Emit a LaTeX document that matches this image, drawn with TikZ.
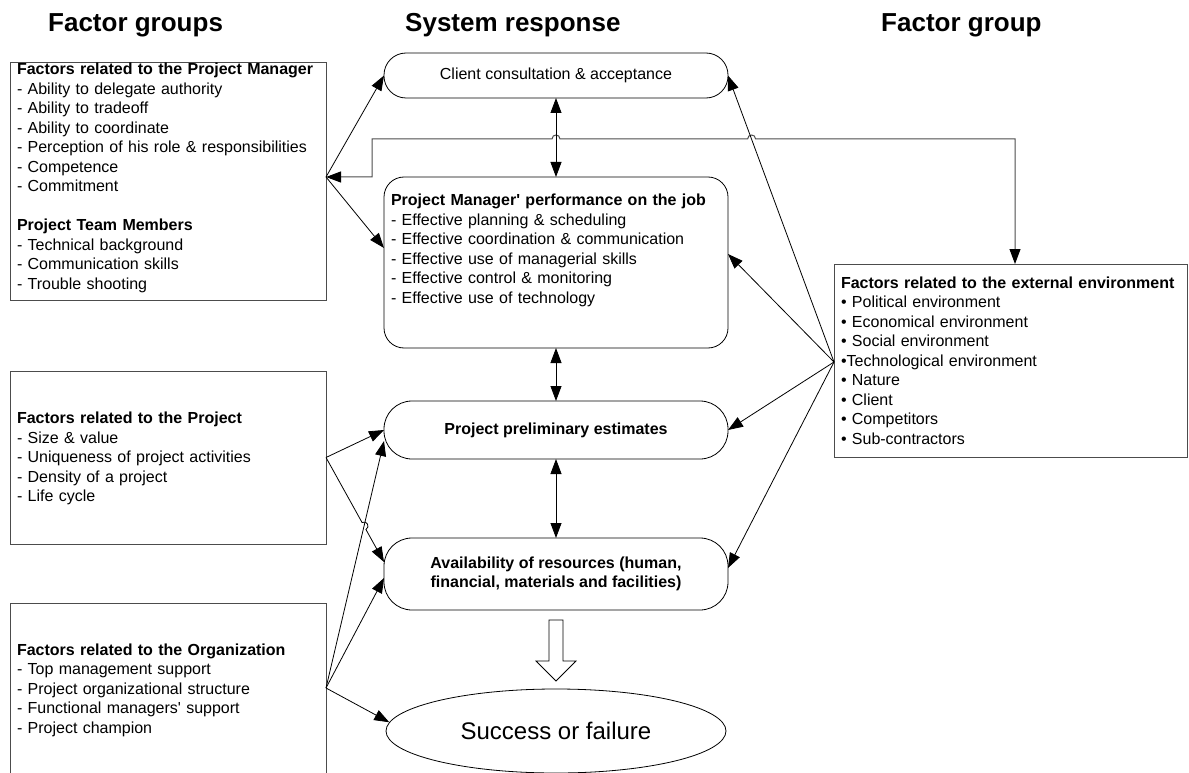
\documentclass[tikz,border=0pt]{standalone}
\usepackage{fontspec}
\setmainfont{Liberation Sans}
% a family without TeX ligatures, so that ' stays a straight apostrophe
\newfontfamily\arial{Liberation Sans}
\usetikzlibrary{arrows.meta,shapes.geometric}

\begin{document}
\begin{tikzpicture}[x=1pt,y=-1pt,
  txt/.style={font=\arial\fontsize{16}{19.5}\selectfont, inner sep=0pt, outer sep=0pt},
  listtxt/.style={txt, anchor=base west, align=left, text width=#1},
  head/.style={font=\arial\bfseries\fontsize{26}{30}\selectfont, anchor=base west, inner sep=0pt},
  sqbox/.style={draw=black!70, line width=1pt, anchor=north west, inner sep=0pt, outer sep=0pt},
  rbox/.style={txt, draw=black, line width=0.8pt, minimum width=344pt},
  arr/.style={-{Triangle[length=15pt,width=11pt]}, line width=0.8pt},
  darr/.style={{Triangle[length=15pt,width=11pt]}-{Triangle[length=15pt,width=11pt]}, line width=0.8pt},
]
\useasboundingbox (0,0) rectangle (1189,773);

% column headings
\node[head] (h1) at (48,31.5) {Factor groups};
\node[head] (h2) at (405,31.5) {System response};
\node[head] (h3) at (881,31.5) {Factor group};

% factor boxes
\node[sqbox, minimum width=316pt, minimum height=237pt] (pmfac) at (10,63) {};
\node[sqbox, minimum width=316pt, minimum height=173pt] (projfac) at (10,371) {};
\node[sqbox, minimum width=316pt, minimum height=175pt] (orgfac) at (10,603) {};
\node[sqbox, minimum width=353pt, minimum height=193pt] (envfac) at (834,264) {};

\node[listtxt=300pt] (pmfac-t) at (17,75) {\textbf{Factors related to the Project Manager}\\
- Ability to delegate authority\\
- Ability to tradeoff\\
- Ability to coordinate\\
- Perception of his role \& responsibilities\\
- Competence\\
- Commitment\\[19.5pt]
\textbf{Project Team Members}\\
- Technical background\\
- Communication skills\\
- Trouble shooting};

\node[listtxt=300pt] (projfac-t) at (17,423.5) {\textbf{Factors related to the Project}\\
- Size \& value\\
- Uniqueness of project activities\\
- Density of a project\\
- Life cycle};

\node[listtxt=300pt] (orgfac-t) at (17,655) {\textbf{Factors related to the Organization}\\
- Top management support\\
- Project organizational structure\\
- Functional managers' support\\
- Project champion};

\node[listtxt=340pt] (envfac-t) at (841,288.3) {\textbf{Factors related to the external environment}\\
• Political environment\\
• Economical environment\\
• Social environment\\
•Technological environment\\
• Nature\\
• Client\\
• Competitors\\
• Sub-contractors};

% system response boxes
\node[rbox, rounded corners=22pt, minimum height=45pt] (client) at (556,75.5) {Client consultation \& acceptance};
\node[rbox, rounded corners=20pt, minimum height=171pt] (pmjob) at (556,262.5) {};
\node[listtxt=330pt] (pmjob-t) at (391,205.7) {\textbf{Project Manager' performance on the job}\\
- Effective planning \& scheduling\\
- Effective coordination \& communication\\
- Effective use of managerial skills\\
- Effective control \& monitoring\\
- Effective use of technology};
\node[rbox, rounded corners=28pt, minimum height=58pt] (est) at (556,430) {\textbf{Project preliminary estimates}};
\node[rbox, rounded corners=28pt, minimum height=72pt, align=center] (res) at (556,574)
  {\textbf{Availability of resources (human,}\\\textbf{financial, materials and facilities)}};

% outcome
\node[draw, ellipse, line width=0.8pt, minimum width=340pt, minimum height=84pt, inner sep=0pt,
  font=\arial\fontsize{24}{28}\selectfont] (succ) at (556,731) {Success or failure};
\draw[line width=0.8pt, fill=white] (549,620) -- (563,620) -- (563,661) -- (576,661)
  -- (556,681) -- (536,661) -- (549,661) -- cycle;

% fan points on the factor boxes
\coordinate (pmfan) at ([yshift=4.5pt]pmfac.east);
\coordinate (projfan) at (projfac.east);
\coordinate (orgfan) at ([yshift=2.5pt]orgfac.east);
\coordinate (envfan) at ([yshift=-1.5pt]envfac.west);

% project manager factors
\draw[arr] (pmfan) -- (client.west);
\draw[arr] (pmfan) -- ([yshift=14.5pt]pmjob.west);

% feedback between the manager and the external environment, hopping over two lines
\draw[{Triangle[length=15pt,width=11pt,color=black]}-{Triangle[length=15pt,width=11pt,color=black]},
  draw=black!70, line width=1pt]
  (pmfan) -- (372,177) -- (372,139) -- (552,139)
  .. controls (552,133.7) and (560,133.7) .. (560,139) -- (747.6,139)
  .. controls (747.6,133.7) and (755.6,133.7) .. (755.6,139) -- (1015,139)
  -- (1015,139 |- envfac.north);

% chain of system responses
\draw[darr] (client.south) -- (pmjob.north);
\draw[darr] (pmjob.south) -- (est.north);
\draw[darr] (est.south) -- (res.north);

% external environment
\draw[arr] (envfan) -- (client.east);
\draw[arr] (envfan) -- ([yshift=8.5pt]pmjob.east);
\draw[arr] (envfan) -- (est.east);
\draw[arr] (envfan) -- ([yshift=6pt]res.east);

% project factors
\draw[arr] (projfan) -- (est.west);
\draw[arr] (projfan) -- (362.06,522.5)
  .. controls (366.7,519.9) and (370.6,526.9) .. (365.94,529.5)
  -- ([yshift=12pt]res.west);

% organization factors
\draw[arr] (orgfan) -- ([yshift=-11pt]est.west);
\draw[arr] (orgfan) -- ([yshift=-4pt]res.west);
\draw[arr] (orgfan) -- (succ.177);
\end{tikzpicture}
\end{document}
